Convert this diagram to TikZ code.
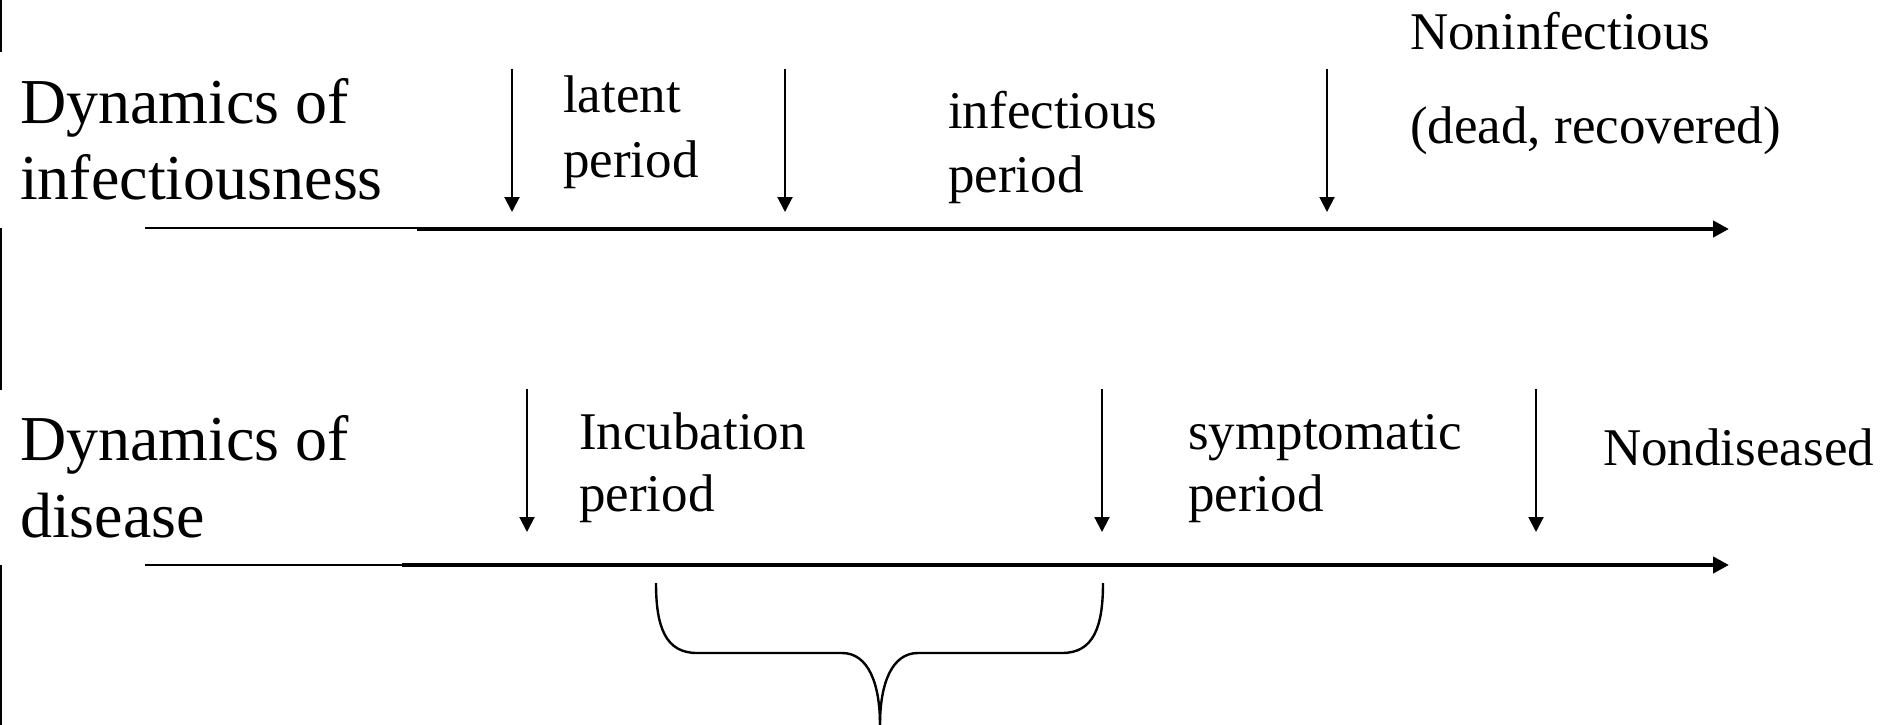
\documentclass[tikz,border=0pt]{standalone}
\usepackage{fontspec}
\setmainfont{Liberation Serif}
\usetikzlibrary{arrows.meta}
% two stacked lines whose baseline is the first line's baseline
\newcommand{\stacktwo}[3][0pt]{\begin{tabular}[t]{@{}l@{}}#2\\[#1]#3\end{tabular}}
\begin{document}
\begin{tikzpicture}[x=1pt,y=-1pt,
  axisline/.style={line width=4pt,-{Triangle[width=16pt,length=16pt]}},
  leadline/.style={line width=1.8pt},
  marker/.style={line width=2pt,-{Triangle[width=15pt,length=15pt]}},
  bracepath/.style={line width=2.4pt},
  edgeline/.style={line width=2pt},
  rowlabel/.style={anchor=base west,inner sep=0pt,font=\fontsize{64}{79}\selectfont},
  phase/.style={anchor=base west,inner sep=0pt,font=\fontsize{53}{59}\selectfont},
]
\useasboundingbox (0,0) rectangle (1893,725);

% edge rules on the left border
\draw[edgeline] (1,0) -- (1,52);
\draw[edgeline] (1,228) -- (1,390);
\draw[edgeline] (1,565) -- (1,725);

% ---------- infectiousness timeline ----------
\node[rowlabel] (dynI) at (20,123) {\stacktwo[-2pt]{Dynamics of}{infectiousness}};
\coordinate (axIa) at (145,228);
\coordinate (axIb) at (417,229);
\coordinate (axIc) at (1729,229);
\draw[leadline] (axIa) -- (axIa -| axIb);
\draw[axisline] (axIb) -- (axIc);

\coordinate (t1a) at (512,69);   \coordinate (t1b) at (512,212);
\coordinate (t2a) at (785,69);   \coordinate (t2b) at (785,212);
\coordinate (t3a) at (1327,69);  \coordinate (t3b) at (1327,212);
\draw[marker] (t1a) -- (t1b);
\draw[marker] (t2a) -- (t2b);
\draw[marker] (t3a) -- (t3b);

\node[phase] (latent) at (563,112) {\stacktwo[6pt]{latent}{period}};
\node[phase] (infectious) at (948,128) {\stacktwo[6pt]{infectious}{period}};
\node[phase] (noninf) at (1410,49) {\stacktwo[35pt]{Noninfectious}{(dead, recovered)}};

% ---------- disease timeline ----------
\node[rowlabel] (dynD) at (20,460) {\stacktwo[-2pt]{Dynamics of}{disease}};
\coordinate (axDa) at (145,565);
\coordinate (axDb) at (402,565);
\coordinate (axDc) at (1729,565);
\draw[leadline] (axDa) -- (axDb);
\draw[axisline] (axDb) -- (axDc);

\coordinate (b1a) at (527,389);  \coordinate (b1b) at (527,532);
\coordinate (b2a) at (1102,389); \coordinate (b2b) at (1102,532);
\coordinate (b3a) at (1536,389); \coordinate (b3b) at (1536,532);
\draw[marker] (b1a) -- (b1b);
\draw[marker] (b2a) -- (b2b);
\draw[marker] (b3a) -- (b3b);

\node[phase] (incub) at (579,449) {\stacktwo[3pt]{Incubation}{period}};
\node[phase] (sympt) at (1188,449) {\stacktwo[3pt]{symptomatic}{period}};
\node[phase] (nondis) at (1603,465) {Nondiseased};

% ---------- brace under the incubation period ----------
\coordinate (brL) at (656,583);
\coordinate (brR) at (1103,583);
\coordinate (brM) at (880,725);
\draw[bracepath] (brL) .. controls (656,628) and (666,653) .. (697,653)
  -- (842,653) .. controls (868,653) and (880,683) .. (brM);
\draw[bracepath] (brR) .. controls (1103,628) and (1093,653) .. (1062,653)
  -- (918,653) .. controls (892,653) and (880,683) .. (brM);
\end{tikzpicture}
\end{document}
